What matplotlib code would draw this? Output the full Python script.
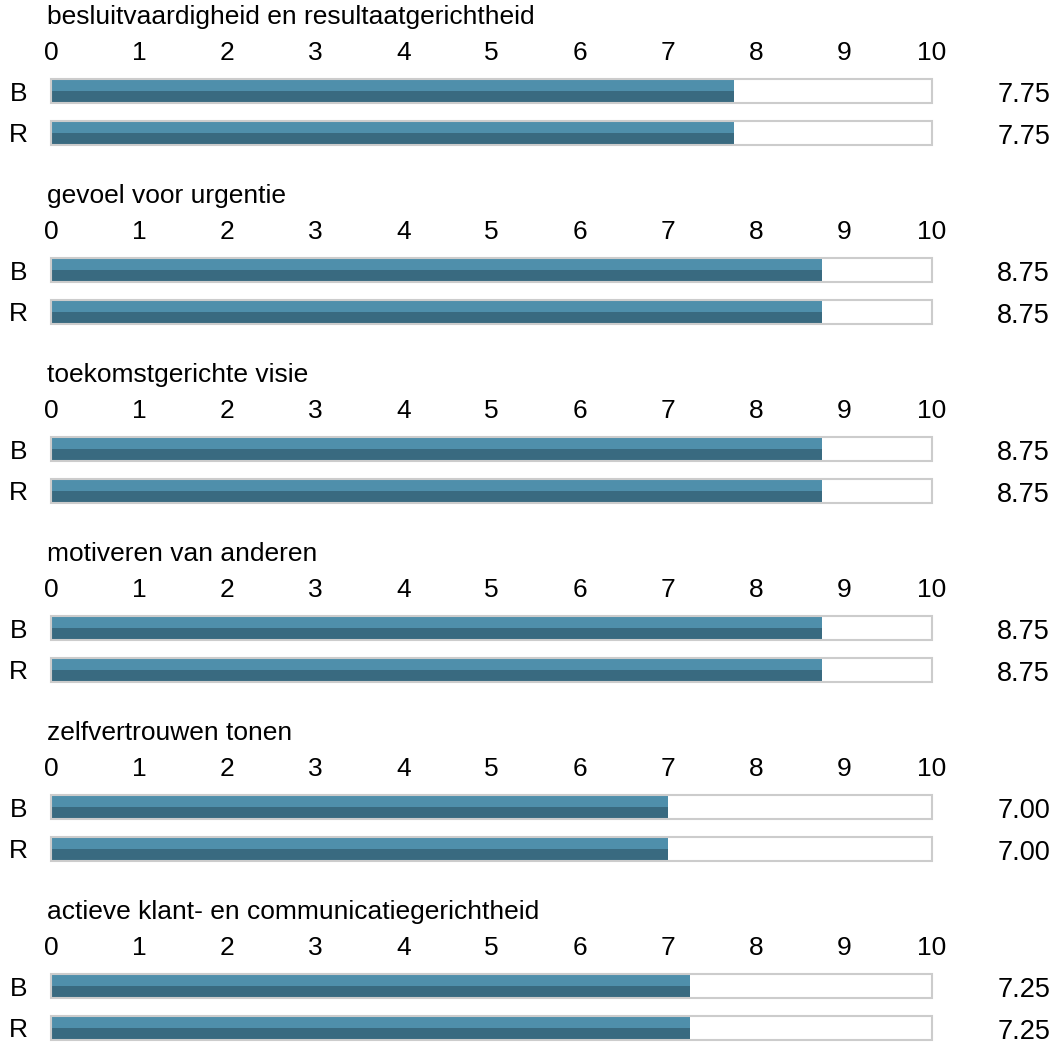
import matplotlib.pyplot as plt
from matplotlib.patches import Rectangle

plt.rcParams['font.family'] = ['Liberation Sans', 'DejaVu Sans']

competenties = ["besluitvaardigheid en resultaatgerichtheid",
                "gevoel voor urgentie",
                "toekomstgerichte visie",
                "motiveren van anderen",
                "zelfvertrouwen tonen",
                "actieve klant- en communicatiegerichtheid"]
rijen = ["B", "R"]
score_b = [7.75, 8.75, 8.75, 8.75, 7.00, 7.25]
score_r = [7.75, 8.75, 8.75, 8.75, 7.00, 7.25]
ticks = list(range(0, 11))

W, H = 1054, 1044
licht = "#4f8fab"
donker = "#396a80"
rand = "#cccccc"
fs = 19

fig = plt.figure(figsize=(W / 100, H / 100), dpi=100)

left, right = 51, 932
bar_h = 24 / 42
for i, naam in enumerate(competenties):
    top = 79 + 179 * i
    ax = fig.add_axes([left / W, 1 - (top + 66) / H, (right - left) / W, 66 / H])
    ax.set_xlim(0, 10)
    ax.set_ylim(1.286, -0.286)
    waarden = [score_b[i], score_r[i]]
    for j, v in enumerate(waarden):
        ax.barh(j - bar_h / 4, v, height=bar_h / 2, left=0, color=licht, zorder=2)
        ax.barh(j + bar_h / 4, v, height=bar_h / 2, left=0, color=donker, zorder=2)
        ax.add_patch(Rectangle((0, j - bar_h / 2), 10, bar_h, fill=False,
                               edgecolor=rand, lw=1.5, zorder=3, clip_on=False))
        ax.text(1.134, j + 0.27, f"{v:.2f}", transform=ax.get_yaxis_transform(),
                ha="right", va="baseline", fontsize=fs + 0.5)
    ax.set_yticks([0, 1])
    ax.set_yticklabels(rijen, fontsize=fs)
    ax.tick_params(axis="y", length=0, pad=17)
    ax.xaxis.tick_top()
    ax.set_xticks(ticks)
    ax.set_xticklabels([str(t) for t in ticks], fontsize=fs)
    ax.tick_params(axis="x", length=0, pad=10)
    for s in ax.spines.values():
        s.set_visible(False)
    ax.patch.set_alpha(0)
    fig.text(47 / W, 1 - (17 + 179 * i) / H, naam, fontsize=fs, va="center", ha="left")

fig.savefig("out.png", dpi=100)
